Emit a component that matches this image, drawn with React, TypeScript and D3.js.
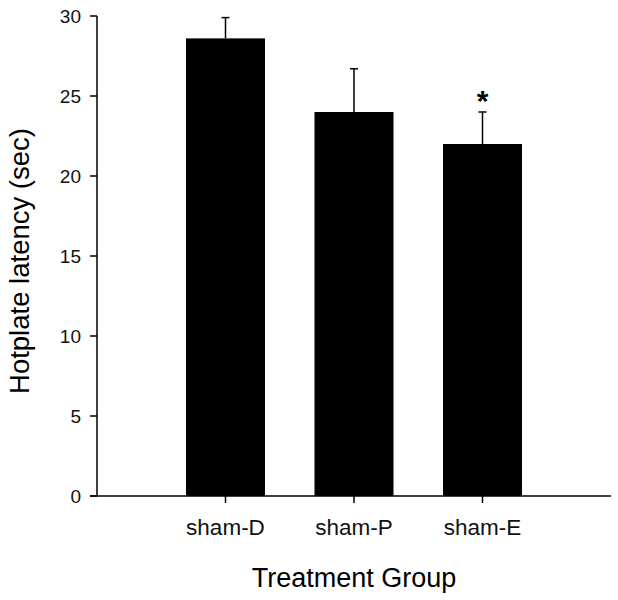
import React from 'react'
import * as d3 from 'd3'

const groups = ['sham-D', 'sham-P', 'sham-E']
const latency = [28.6, 24.0, 22.0]
const sem = [1.3, 2.7, 2.0]
const marks = ['', '', '*']
const yTicks = [0, 5, 10, 15, 20, 25, 30]

const font = '"Liberation Sans", Arial, sans-serif'

export default function App() {
  const width = 618
  const height = 600
  const margin = { top: 16, right: 7, bottom: 104, left: 97 }

  const x = d3.scaleLinear()
    .domain([0, groups.length + 1])
    .range([margin.left, width - margin.right])

  const y = d3.scaleLinear()
    .domain([0, 30])
    .range([height - margin.bottom, margin.top])

  const barWidth = 79
  const capWidth = 8
  const y0 = y(0)

  return (
    <div style={{ position: 'absolute', left: 0, top: 0 }}>
      <svg width={width} height={height} style={{ display: 'block', background: '#fff' }}>
        {/* bars */}
        {latency.map((d, i) => (
          <rect
            key={'bar' + i}
            x={x(i + 1) - barWidth / 2}
            y={y(d)}
            width={barWidth}
            height={y0 - y(d)}
            fill="#000"
          />
        ))}

        {/* error bars, upper half only */}
        {latency.map((d, i) => (
          <g key={'err' + i} stroke="#000" strokeWidth={1.5}>
            <line x1={x(i + 1)} x2={x(i + 1)} y1={y(d)} y2={y(d + sem[i])} />
            <line
              x1={x(i + 1) - capWidth / 2}
              x2={x(i + 1) + capWidth / 2}
              y1={y(d + sem[i])}
              y2={y(d + sem[i])}
            />
          </g>
        ))}

        {/* significance marks */}
        {marks.map((m, i) => m && (
          <text
            key={'mark' + i}
            x={x(i + 1)}
            y={y(latency[i] + sem[i]) - 1}
            textAnchor="middle"
            fontFamily={font}
            fontWeight="bold"
            fontSize={30}
          >
            {m}
          </text>
        ))}

        {/* y axis */}
        <line x1={margin.left} x2={margin.left} y1={y(30)} y2={y0} stroke="#000" strokeWidth={1.5} />
        {yTicks.map(t => (
          <g key={'yt' + t}>
            <line x1={margin.left - 7} x2={margin.left} y1={y(t)} y2={y(t)} stroke="#000" strokeWidth={1.5} />
            <text
              x={margin.left - 16}
              y={y(t)}
              dy="0.35em"
              textAnchor="end"
              fontFamily={font}
              fontSize={19}
              fill="#111"
            >
              {t}
            </text>
          </g>
        ))}

        {/* x axis */}
        <line x1={margin.left - 7} x2={width - margin.right} y1={y0} y2={y0} stroke="#000" strokeWidth={1.5} />
        {groups.map((g, i) => (
          <g key={'xt' + g}>
            <line x1={x(i + 1)} x2={x(i + 1)} y1={y0} y2={y0 + 7} stroke="#000" strokeWidth={1.5} />
            <text
              x={x(i + 1)}
              y={535}
              textAnchor="middle"
              fontFamily={font}
              fontSize={22.5}
              fill="#111"
            >
              {g}
            </text>
          </g>
        ))}

        {/* axis titles */}
        <text
          x={(margin.left + width - margin.right) / 2}
          y={587}
          textAnchor="middle"
          fontFamily={font}
          fontSize={27}
          fill="#000"
        >
          Treatment Group
        </text>
        <text
          transform={`translate(29, ${(y(30) + y0) / 2 + 5}) rotate(-90)`}
          textAnchor="middle"
          fontFamily={font}
          fontSize={27.5}
          fill="#000"
        >
          Hotplate latency (sec)
        </text>
      </svg>
    </div>
  )
}
